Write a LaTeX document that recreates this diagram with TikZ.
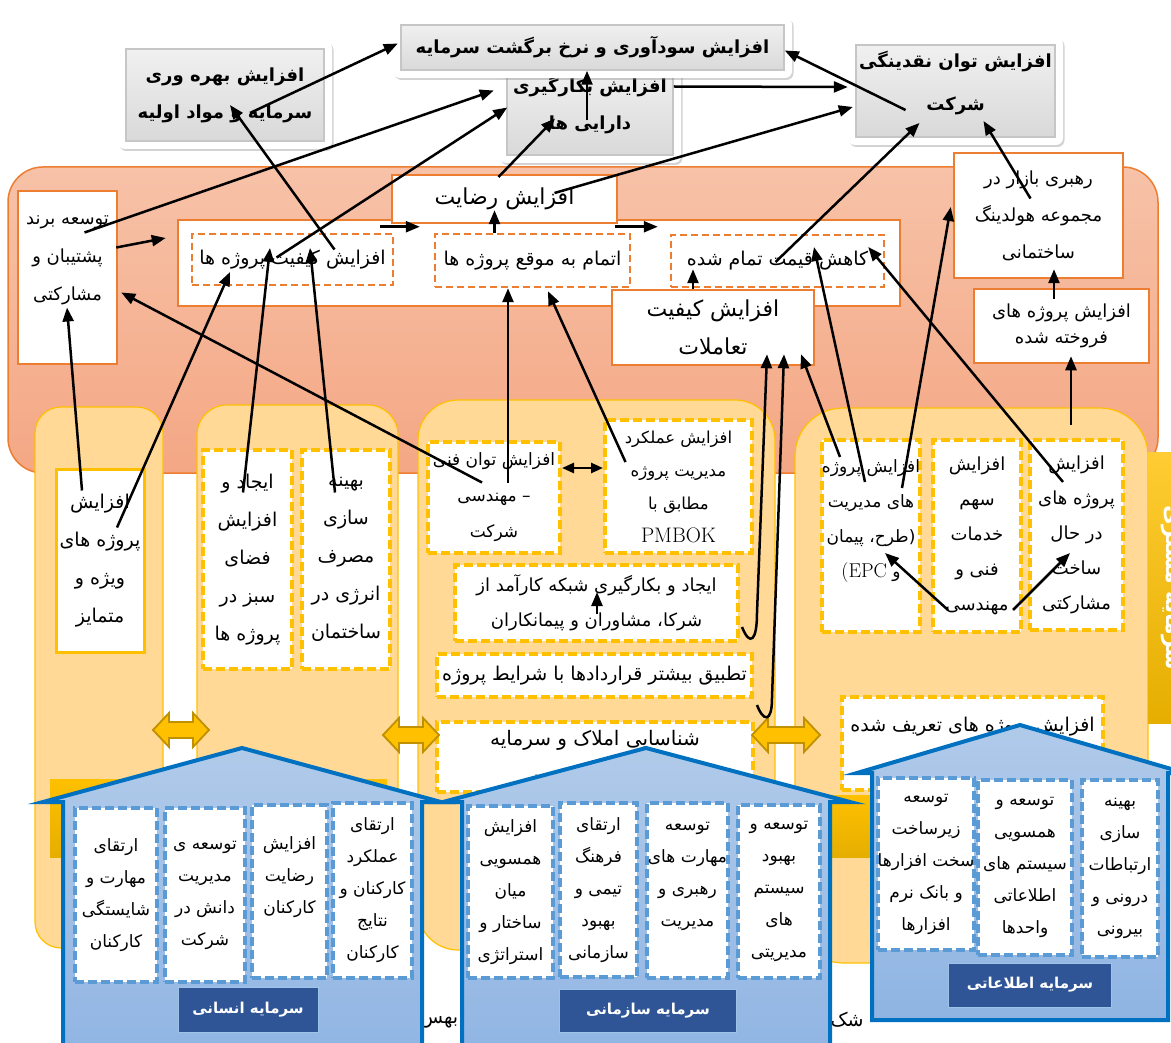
\documentclass[tikz,border=0pt]{standalone}
\usepackage{fontspec}
\newfontfamily\fa[Script=Arabic]{DejaVu Sans}
\TeXXeTstate=1
\usetikzlibrary{positioning,calc,arrows.meta,shadows}
\definecolor{orline}{HTML}{ED7D31}
\definecolor{bandtop}{HTML}{F7C2A8}
\definecolor{bandbot}{HTML}{F4A784}
\definecolor{colfill}{HTML}{FFD995}
\definecolor{goldln}{HTML}{FFC000}
\definecolor{golddark}{HTML}{BF9000}
\definecolor{goldbot}{HTML}{E5AE00}
\definecolor{hstop}{HTML}{B0CAE9}
\definecolor{hsbot}{HTML}{8FB4E3}
\definecolor{houseln}{HTML}{0070C0}
\definecolor{hdash}{HTML}{5B9BD5}
\definecolor{capblue}{HTML}{2F5597}
\definecolor{paneltop}{HTML}{F0F0F0}
\definecolor{panelbot}{HTML}{D9D9D9}
\newcommand\rl[1]{\beginR #1\endR}
% block double arrow: centre x, centre y, half length
\newcommand\linkarrow[3]{\draw[dblarr] (#1-#3,#2) -- (#1-#3+16,#2-17) -- (#1-#3+16,#2-8) -- (#1+#3-16,#2-8) -- (#1+#3-16,#2-17) -- (#1+#3,#2) -- (#1+#3-16,#2+17) -- (#1+#3-16,#2+8) -- (#1-#3+16,#2+8) -- (#1-#3+16,#2+17) -- cycle;}
\tikzset{
  txt/.style={font=\fa\fontsize{19}{38}\selectfont, align=center, inner sep=0pt},
  sz/.style 2 args={minimum width=#1, minimum height=#2},
  obox/.style={txt, draw=orline, line width=2.5pt, fill=white},
  odash/.style={obox, dash pattern=on 7pt off 4pt},
  ydash/.style={txt, draw=goldln, line width=4pt, dash pattern=on 9pt off 4pt, fill=white},
  ysolid/.style={txt, draw=goldln, line width=3pt, fill=white},
  hdbox/.style={txt, font=\fa\fontsize{17}{32}\selectfont, draw=hdash, line width=4pt, dash pattern=on 9pt off 4pt, fill=white},
  capbox/.style={fill=capblue, draw=hdash!60, line width=1pt, text=white, font=\fa\bfseries\fontsize{15}{18}\selectfont},
  panelbg/.style={fill=white, rounded corners=7pt, drop shadow={opacity=.35, shadow xshift=1.5pt, shadow yshift=-2pt}},
  panel/.style={txt, font=\fa\bfseries\fontsize{18}{37}\selectfont, top color=paneltop, bottom color=panelbot, draw=gray!45, line width=1.5pt},
  column/.style={fill=colfill, draw=goldln, line width=1.2pt},
  house/.style={draw=houseln, line width=4pt, top color=hstop, bottom color=hsbot},
  dblarr/.style={draw=golddark, fill=goldln, line width=1.8pt, line join=miter},
  arr/.style={-{Triangle[length=14pt,width=11pt]}, line width=2.5pt},
  arrboth/.style={{Triangle[length=12pt,width=10pt]}-{Triangle[length=12pt,width=10pt]}, line width=2.5pt},
}
\begin{document}
\begin{tikzpicture}[x=1pt,y=-1pt]
\useasboundingbox (0,0) rectangle (1171,1043);

% band and columns
\draw[orline, line width=1.5pt, top color=bandtop, bottom color=bandbot, rounded corners=35pt] (8,167) rectangle (1158,473);
\draw[column, rounded corners=26pt] (35,407) rectangle (163,948);
\draw[column, rounded corners=30pt] (197,405) rectangle (398,948);
\draw[column, rounded corners=40pt] (418,400) rectangle (775,950);
\draw[column, rounded corners=48pt] (795,408) rectangle (1148,963);
\fill[top color=goldln, bottom color=goldbot] (50,779) rectangle (387,857);
\fill[top color=goldln, bottom color=goldbot] (790,795) rectangle (1140,857);
\fill[top color=goldln!80, bottom color=goldbot] (1148,452) rectangle (1171,723);
\node[rotate=-90, text=white, font=\fa\bfseries\fontsize{22}{22}\selectfont] (sidebar) at (1172,588) {\rl{سرمایه مشتری}};

% band boxes
\node[obox, sz={99}{173}, font=\fa\fontsize{18}{38}\selectfont] (brand) at (67.5,277.5) {\rl{توسعه برند}\\\rl{پشتیبان و}\\\rl{مشارکتی}\\~};
\node[obox, sz={722}{86}] (bigbox) at (539,263) {};
\node[obox, sz={225}{48}, font=\fa\fontsize{22}{24}\selectfont] (rezayat) at (504.5,199) {\rl{افزایش رضایت}};
\node[odash, sz={201}{51}] (kafiyat) at (292.5,259.5) {\rl{افزایش کیفیت پروژه ها}};
\node[odash, sz={195}{53}] (atmam) at (532.5,260.5) {\rl{اتمام به موقع پروژه ها}};
\node[odash, sz={213}{52}] (kahesh) at (777.5,261) {\rl{کاهش قیمت تمام شده}};
\node[obox, sz={202}{75}, font=\fa\fontsize{22}{38}\selectfont] (taamolat) at (713,327.5) {\rl{افزایش کیفیت}\\\rl{تعاملات}};
\node[obox, sz={169}{125}, font=\fa\fontsize{18}{37}\selectfont] (rahbari) at (1038.5,215.5) {\rl{رهبری بازار در}\\\rl{مجموعه هولدینگ}\\\rl{ساختمانی}};
\node[obox, sz={175}{74}, font=\fa\fontsize{18}{26}\selectfont] (foroukhte) at (1061.5,326) {\rl{افزایش پروژه های}\\\rl{فروخته شده}};

% column boxes
\node[ysolid, sz={88}{183}] (vije) at (100,560.5) {\rl{افزایش}\\\rl{پروژه های}\\\rl{ویژه و}\\\rl{متمایز}};
\node[ydash, sz={89}{219}] (sabz) at (247.5,559.5) {\rl{ایجاد و}\\\rl{افزایش}\\\rl{فضای}\\\rl{سبز در}\\\rl{پروژه ها}};
\node[ydash, sz={88}{219}] (energy) at (346,559.5) {\rl{بهینه}\\\rl{سازی}\\\rl{مصرف}\\\rl{انرژی در}\\\rl{ساختمان}};
\node[ydash, sz={132}{111}, font=\fa\fontsize{17}{36}\selectfont] (fanni) at (494,497.5) {\rl{افزایش توان فنی}\\\rl{– مهندسی}\\\rl{شرکت}};
\node[ydash, sz={147}{133}, font=\fa\fontsize{16.5}{33}\selectfont] (pmbok) at (678.5,486.5) {\rl{افزایش عملکرد}\\\rl{مدیریت پروژه}\\\rl{مطابق با}\\{\rmfamily\fontsize{21}{33}\selectfont PMBOK}};
\node[ydash, sz={283}{76}, font=\fa\fontsize{18}{35}\selectfont] (shabake) at (596.5,603) {\rl{ایجاد و بکارگیری شبکه کارآمد از}\\\rl{شرکا، مشاوران و پیمانکاران}};
\node[ydash, sz={315}{43}] (tatbigh) at (594.5,675.5) {\rl{تطبیق بیشتر قراردادها با شرایط پروژه}};
\node[ydash, sz={316}{70}, font=\fa\fontsize{20}{38}\selectfont] (shenasayi) at (595,757) {\rl{شناسایی املاک و سرمایه}\\\rl{\hspace*{100pt}تعد}};
\node[ydash, sz={98}{192}, font=\fa\fontsize{17}{35}\selectfont] (epc) at (871,536) {\rl{افزایش پروژه}\\\rl{های مدیریت}\\\rl{(طرح، پیمان}\\{\rmfamily\fontsize{20}{35}\selectfont (EPC} و\\~};
\node[ydash, sz={88}{192}, font=\fa\fontsize{18}{35}\selectfont] (sahm) at (977,536) {\rl{افزایش}\\\rl{سهم}\\\rl{خدمات}\\\rl{فنی و}\\\rl{مهندسی}};
\node[ydash, sz={93}{190}, font=\fa\fontsize{18}{35}\selectfont] (darhal) at (1076.5,535) {\rl{افزایش}\\\rl{پروژه های}\\\rl{در حال}\\\rl{ساخت}\\\rl{مشارکتی}};
\node[ydash, sz={261}{93}] (tarif) at (972.5,743.5) {\rl{افزایش پروژه های تعریف شده}\\~};

% links between columns
\linkarrow{181}{730}{28}
\linkarrow{411}{735}{28}
\linkarrow{786}{735}{34}

\node[txt] (capleft) at (439,1022) {\rl{بهس}};
\node[txt] (capright) at (847,1020) {\rl{شک}};

% houses
\draw[house] (63,1070) -- (63,802) -- (43,802) -- (242,748) -- (441,802) -- (422,802) -- (422,1070) -- cycle;
\draw[house] (462,1070) -- (462,802) -- (443,802) -- (646,748) -- (850,802) -- (830,802) -- (830,1070) -- cycle;
\draw[house] (872,1020) -- (872,773) -- (857,773) -- (1020,725) -- (1185,773) -- (1168,773) -- (1168,1020) -- cycle;

\node[hdbox, sz={82}{174}] (skill) at (116,895) {\rl{ارتقای}\\\rl{مهارت و}\\\rl{شایستگی}\\\rl{کارکنان}};
\node[hdbox, sz={80}{174}] (knowledge) at (205,895) {\rl{توسعه ی}\\\rl{مدیریت}\\\rl{دانش در}\\\rl{شرکت}};
\node[hdbox, sz={75}{173}] (staffsat) at (289.5,891.5) {\rl{افزایش}\\\rl{رضایت}\\\rl{کارکنان}\\~};
\node[hdbox, sz={79}{175}] (staffperf) at (372.5,890.5) {\rl{ارتقای}\\\rl{عملکرد}\\\rl{کارکنان و}\\\rl{نتایج}\\\rl{کارکنان}};
\node[hdbox, sz={85}{172}] (align) at (510.5,892) {\rl{افزایش}\\\rl{همسویی}\\\rl{میان}\\\rl{ساختار و}\\\rl{استراتژی}};
\node[hdbox, sz={77}{174}] (culture) at (598.5,890) {\rl{ارتقای}\\\rl{فرهنگ}\\\rl{تیمی و}\\\rl{بهبود}\\\rl{سازمانی}};
\node[hdbox, sz={81}{175}] (leader) at (687.5,890.5) {\rl{توسعه}\\\rl{مهارت های}\\\rl{رهبری و}\\\rl{مدیریت}\\~};
\node[hdbox, sz={82}{173}] (mgmtsys) at (779,891.5) {\rl{توسعه و}\\\rl{بهبود}\\\rl{سیستم}\\\rl{های}\\\rl{مدیریتی}};
\node[hdbox, sz={92}{172}] (infra) at (926,864) {\rl{توسعه}\\\rl{زیرساخت}\\\rl{سخت افزارها}\\\rl{و بانک نرم}\\\rl{افزارها}};
\node[hdbox, sz={94}{175}] (infosys) at (1025,867.5) {\rl{توسعه و}\\\rl{همسویی}\\\rl{سیستم های}\\\rl{اطلاعاتی}\\\rl{واحدها}};
\node[hdbox, sz={76}{177}] (comms) at (1120,868.5) {\rl{بهینه}\\\rl{سازی}\\\rl{ارتباطات}\\\rl{درونی و}\\\rl{بیرونی}};

\node[capbox, sz={140}{45}] (human) at (248,1010) {\rl{سرمایه انسانی}};
\node[capbox, sz={177}{43}] (organ) at (648,1011) {\rl{سرمایه سازمانی}};
\node[capbox, sz={163}{44}] (inform) at (1030,985) {\rl{سرمایه اطلاعاتی}};

% top results
\node[panelbg, sz={214}{108}] (bahrevari-bg) at (225,95) {};
\node[panel, sz={198}{92}] (bahrevari) at (225,95) {\rl{افزایش بهره وری}\\\rl{سرمایه و مواد اولیه}};
\node[panelbg, sz={182}{103}] (darayi-bg) at (590,111.5) {};
\node[panel, sz={166}{87}] (darayi) at (590,111.5) {\rl{افزایش بکارگیری}\\\rl{دارایی ها}\\[-20pt]~};
\node[panelbg, sz={399}{61}] (sudavari-bg) at (592.5,47.5) {};
\node[panel, sz={383}{45}] (sudavari) at (592.5,47.5) {\rl{افزایش سودآوری و نرخ برگشت سرمایه}};
\node[panelbg, sz={215}{108}] (naqdinegi-bg) at (955.5,91) {};
\node[panel, sz={199}{92}, font=\fa\bfseries\fontsize{18}{43}\selectfont] (naqdinegi) at (955.5,91) {\rl{افزایش توان نقدینگی}\\\rl{شرکت}\\[-22pt]~};

% arrows
\draw[arr] ($(bahrevari.center)+(25,18)$) -- ($(sudavari-bg.west)+(5,-4)$);
\draw[arr] ($(kafiyat.center)+(42,-10)$) -- ($(bahrevari.center)+(5,10)$);
\draw[arr] ($(brand.center)+(17,-45)$) -- ($(darayi-bg.west)+(-5,-21)$);
\draw[arr] ($(kafiyat.center)+(-16,-2)$) -- ($(darayi.west)+(1,-4)$);
\draw[arr] ($(rezayat.center)+(-6,-22)$) -- ($(darayi.center)+(-35,7)$);
\draw[arr] ($(darayi.center)+(-3,9)$) -- ($(sudavari.south)+(-5.5,0)$);
\draw[arr] ($(darayi.east)+(0,-25)$) -- ($(naqdinegi-bg.west)+(0,-4)$);
\draw[arr] ($(rezayat.center)+(50,-6)$) -- ($(naqdinegi-bg.west)+(5,16)$);
\draw[arr] ($(naqdinegi.center)+(-50,19)$) -- ($(sudavari.east)+(0,3)$);
\draw[arr] ($(kahesh.center)+(-2,1)$) -- ($(naqdinegi.center)+(-36,32)$);
\draw[arr] ($(rahbari.center)+(-8,-17)$) -- ($(naqdinegi.center)+(28,30)$);
\draw[arr] ($(brand.east)+(-2,-30)$) -- ($(bigbox.west)+(-11,-25)$);
\draw[arr] ($(kafiyat.north east)+(-14,-6)$) -- ($(atmam.north west)+(-14,-6)$);
\draw[arr] ($(atmam.north east)+(-16,-6)$) -- ($(kahesh.north west)+(-12,-7)$);
\draw[arr] ($(atmam.north)+(-38,0)$) -- ($(rezayat.south)+(-10,-14)$);
\draw[arr] ($(taamolat.north)+(-20,0)$) -- ($(kahesh.south)+(-84.5,-19)$);
\draw[arr] ($(foroukhte.north)+(-7.5,11)$) -- ($(rahbari.south)+(15.5,-10)$);
\draw[arr] ($(darhal.north)+(-5.5,-13)$) -- ($(foroukhte.south)+(9.5,-8)$);
\draw[arr] ($(vije.center)+(-18,-70)$) -- ($(brand.center)+(-0.5,30)$);
\draw[arr] ($(vije.center)+(17,-33)$) -- ($(kafiyat.center)+(-62.5,12.5)$);
\draw[arr] ($(sabz.center)+(-4.5,-67)$) -- ($(kafiyat.center)+(-22.5,-11.5)$);
\draw[arr] ($(energy.center)+(-11,-67)$) -- ($(kafiyat.center)+(17.5,-11.5)$);
\draw[arr] ($(fanni.center)+(-12,-15)$) -- ($(brand.east)+(3,15)$);
\draw[arr] ($(fanni.center)+(14,-15)$) -- ($(atmam.south)+(-24.5,0)$);
\draw[arrboth] ($(fanni.east)+(0,-29.5)$) -- ($(pmbok.west)+(0,-18.5)$);
\draw[arr] ($(pmbok.center)+(-53,-24.5)$) -- ($(atmam.south)+(15.5,3)$);
\draw[arr] ($(shabake.east)+(2,24)$) .. controls +(8,20) and +(0,28) .. ($(shabake.east)+(17,10)$) -- ($(taamolat.south)+(54,-12)$);
\draw[arr] ($(shenasayi.north east)+(2,-15)$) .. controls +(6,16) and +(0,26) .. ($(shenasayi.north east)+(17,-22)$) -- ($(taamolat.south)+(71,-12)$);
\draw[arr] ($(epc.center)+(-31,-79)$) -- ($(taamolat.south)+(88,-12)$);
\draw[arr] ($(epc.center)+(-6,-54)$) -- ($(kahesh.center)+(36.5,-14)$);
\draw[arr] ($(epc.center)+(31,-48)$) -- ($(rahbari.west)+(-2,-8.5)$);
\draw[arr] ($(darhal.center)+(-13.5,-53)$) -- ($(kahesh.east)+(-17,-14)$);
\draw[arr] ($(sahm.center)+(-29,74)$) -- ($(epc.center)+(14,17)$);
\draw[arr] ($(sahm.center)+(36,74)$) -- ($(darhal.center)+(-6.5,18)$);
\draw[arr] ($(shabake.south)+(0.5,-29)$) -- ($(shabake.south)+(0.5,-51)$);
\end{tikzpicture}
\end{document}
